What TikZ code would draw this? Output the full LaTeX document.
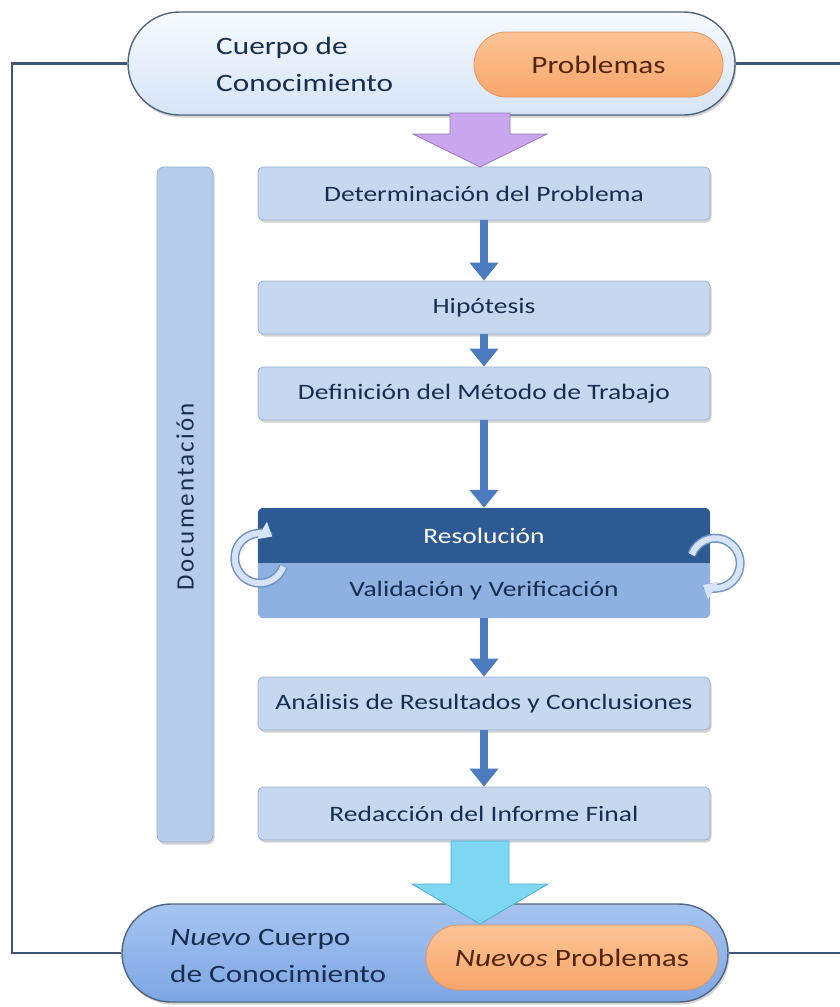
\documentclass[tikz,border=0pt]{standalone}
\usepackage{fontspec}
\setmainfont{Carlito}[FakeStretch=1.25]
\newfontfamily\docfont{Carlito}[LetterSpace=9]
\usepackage{tikz}
\usetikzlibrary{positioning,calc,arrows.meta,shapes.misc,shadows,backgrounds}
\definecolor{frameline}{RGB}{62,85,117}
\definecolor{ink}{RGB}{24,46,80}
\definecolor{rust}{RGB}{84,38,16}
\definecolor{paletop}{RGB}{246,250,254}
\definecolor{palebot}{RGB}{214,228,246}
\definecolor{paleedge}{RGB}{80,100,130}
\definecolor{orangetop}{RGB}{252,196,150}
\definecolor{orangebot}{RGB}{248,166,106}
\definecolor{orangeedge}{RGB}{226,150,100}
\definecolor{stepfill}{RGB}{198,216,239}
\definecolor{stepedge}{RGB}{150,176,212}
\definecolor{docfill}{RGB}{183,204,234}
\definecolor{resdark}{RGB}{46,90,147}
\definecolor{reslight}{RGB}{142,177,226}
\definecolor{flowblue}{RGB}{77,123,191}
\definecolor{lilac}{RGB}{201,167,238}
\definecolor{lilacedge}{RGB}{150,120,192}
\definecolor{skyfill}{RGB}{125,215,242}
\definecolor{skyedge}{RGB}{74,175,208}
\definecolor{deeptop}{RGB}{166,196,240}
\definecolor{deepbot}{RGB}{125,166,228}
\definecolor{ringfill}{RGB}{214,228,248}
\definecolor{ringedge}{RGB}{110,146,200}

\begin{document}
\begin{tikzpicture}[x=1pt,y=-1pt,
  softshadow/.style={drop shadow={opacity=0.35,shadow xshift=1.5pt,shadow yshift=-2.5pt}},
  pill/.style={rounded rectangle,draw=paleedge,line width=1.4pt,inner sep=0pt,softshadow},
  orangepill/.style={rounded rectangle,draw=orangeedge,line width=0.8pt,top color=orangetop,bottom color=orangebot,
    text=rust,font=\fontsize{25}{30}\selectfont,inner sep=0pt},
  pilltext/.style={anchor=west,align=left,inner sep=0pt,text=ink,font=\fontsize{25}{37}\selectfont},
  stepbox/.style={rectangle,rounded corners=5pt,fill=stepfill,draw=stepedge,line width=0.8pt,
    minimum width=452pt,minimum height=53pt,text=ink,font=\fontsize{22}{26}\selectfont,softshadow},
  resbox/.style={rectangle,minimum width=452pt,minimum height=55pt,font=\fontsize{22}{26}\selectfont},
  flow/.style={draw=flowblue,line width=8pt,-{Triangle[length=18pt,width=28pt]}},
  ring/.style={draw=ringfill,line width=6pt,-{Triangle[length=12pt,width=19pt]},
    preaction={draw=ringedge,line width=9pt}},
  loopline/.style={draw=frameline,line width=2.5pt}]
\useasboundingbox (0,0) rectangle (840,1007);

% knowledge body at the top
\node[pill,minimum width=607pt,minimum height=103pt,top color=paletop,bottom color=palebot] (cuerpo) at (431.5,63.5) {};
\node[pilltext] (cuerpotxt) at (216,64) {Cuerpo de\\Conocimiento};
\node[orangepill,minimum width=249pt,minimum height=65pt] (problemas) at (598.5,64.5) {Problemas};

% documentation bar
\node[rectangle,rounded corners=7pt,fill=docfill,draw=stepedge,line width=0.8pt,
  minimum width=56pt,minimum height=675pt,softshadow] (doc) at (185,504.5) {};
\node[rotate=90,text=ink,font=\docfont\fontsize{25}{28}\selectfont] (doctxt) at ($(doc)+(0,-8)$) {Documentación};

% steps
\node[stepbox] (det) at (484,193.5) {Determinación del Problema};
\node[stepbox] (hip) at (484,307.5) {Hipótesis};
\node[stepbox] (met) at (484,393.5) {Definición del Método de Trabajo};
\node[resbox,text=white] (res) at (484,535.5) {Resolución};
\node[resbox,text=ink] (val) at (484,590.5) {Validación y Verificación};
\node[stepbox] (ana) at (484,703.5) {Análisis de Resultados y Conclusiones};
\node[stepbox] (red) at (484,813.5) {Redacción del Informe Final};

\begin{scope}[on background layer]
\fill[black,opacity=0.35,rounded corners=6pt,xshift=1.5pt,yshift=-2.5pt] (res.north west) rectangle (val.south east);
\clip[rounded corners=6pt] (res.north west) rectangle (val.south east);
\fill[resdark] (res.north west) rectangle (res.south east);
\fill[reslight] (val.north west) rectangle (val.south east);
\end{scope}

\draw[flow] (det) -- (hip);
\draw[flow] (hip) -- (met);
\draw[flow] (met) -- (res);
\draw[flow] (val) -- (ana);
\draw[flow] (ana) -- (red);

% iteration rings
\draw[ring] ($(res.south west)+(2,-5)$) ++(20:25) arc[start angle=20,end angle=300,radius=25];
\draw[ring] ($(res.south east)+(5,0)$) ++(-160:25) arc[start angle=-160,end angle=120,radius=25];

% new knowledge body at the bottom
\node[pill,minimum width=606pt,minimum height=98pt,top color=deeptop,bottom color=deepbot] (nuevo) at (425,953) {};
\node[pilltext] (nuevotxt) at (170,956) {\textit{Nuevo} Cuerpo\\de Conocimiento};
\node[orangepill,minimum width=292pt,minimum height=65pt] (nprob) at (572,957.5) {\textit{Nuevos} Problemas};

% big arrows
\draw[fill=lilac,draw=lilacedge,line width=0.8pt] (450,113) -- (510,113) -- (510,134) -- (547,134)
  -- (480,167) -- (413,134) -- (450,134) -- cycle;
\draw[fill=skyfill,draw=skyedge,line width=0.8pt] (451,841) -- (509,841) -- (509,884) -- (548,884)
  -- (480,924) -- (412,884) -- (451,884) -- cycle;

% feedback loop
\coordinate (lside) at (12,0);
\coordinate (rside) at (840,0);
\draw[loopline] (cuerpo.west) -| (lside |- nuevo.west) -- (nuevo.west);
\draw[loopline] (cuerpo.east) -- (rside |- cuerpo.east);
\draw[loopline] (nuevo.east) -- (rside |- nuevo.east);
\end{tikzpicture}
\end{document}
